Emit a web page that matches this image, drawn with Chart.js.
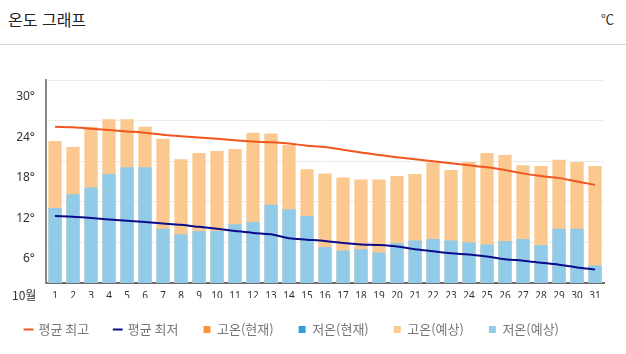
<!DOCTYPE html>
<html lang="ko">
<head>
<meta charset="utf-8">
<script src="https://cdn.jsdelivr.net/npm/chart.js@4.4.1/dist/chart.umd.min.js"></script>
<style>
  html, body { margin: 0; padding: 0; background: #fff; }
  body { width: 626px; height: 354px; position: relative; overflow: hidden;
         font-family: "Noto Sans CJK KR", "Noto Sans", sans-serif; }
  #hdr { position: absolute; left: 0; top: 0; width: 626px; height: 44px; border-bottom: 1px solid #d6d6d6; }
  #title { position: absolute; left: 8px; top: 8px; font-size: 16px; line-height: 22px; color: #222; }
  #unit { position: absolute; right: 12px; top: 10px; font-size: 13px; line-height: 18px; color: #333; }
  #month { position: absolute; left: 12px; top: 286px; font-size: 12px; line-height: 18px; color: #333; }
  #wrap { position: absolute; left: 0; top: 45px; width: 626px; height: 309px; }
</style>
</head>
<body>
<div id="hdr"><span id="title">온도 그래프</span><span id="unit">℃</span></div>
<div id="wrap"><canvas id="c" width="626" height="309"></canvas></div>
<div id="month">10월</div>
<script>
const days = ['1','2','3','4','5','6','7','8','9','10','11','12','13','14','15','16','17','18','19','20','21','22','23','24','25','26','27','28','29','30','31'];
const yTickLabels = ['', '6°', '12°', '18°', '24°', '30°'];
const seriesNames = ['평균 최고', '평균 최저', '고온(현재)', '저온(현재)', '고온(예상)', '저온(예상)'];

const avgHigh = [25.5,25.4,25.2,25.0,24.8,24.6,24.3,24.1,23.9,23.7,23.5,23.3,23.2,23.0,22.7,22.5,22.1,21.7,21.3,21.0,20.7,20.4,20.1,19.8,19.5,19.1,18.6,18.2,17.9,17.4,16.9];
const avgLow = [12.3,12.2,12.0,11.8,11.6,11.4,11.2,11.0,10.7,10.4,10.1,9.8,9.6,9.0,8.8,8.6,8.3,8.1,8.0,7.8,7.4,7.1,6.8,6.6,6.3,5.9,5.7,5.4,5.1,4.7,4.4];
const currentHigh = [];
const currentLow = [];
const forecastHigh = [23.4,22.5,25.5,26.6,26.6,25.5,23.7,20.7,21.6,21.9,22.2,24.6,24.5,22.8,19.2,18.6,18.0,17.7,17.7,18.2,18.5,20.2,19.1,20.3,21.6,21.3,19.8,19.7,20.6,20.3,19.7];
const forecastLow = [13.5,15.5,16.5,18.5,19.5,19.5,10.4,9.6,10.1,10.1,11.1,11.4,14.0,13.3,12.3,7.7,7.2,7.4,6.9,8.3,8.7,8.9,8.7,8.4,8.1,8.6,8.9,8.0,10.4,10.4,5.0];

const barCommon = { type: 'bar', grouped: false, barPercentage: 0.74, categoryPercentage: 1.0, borderWidth: 0, pointStyle: 'rect' };
const lineCommon = { type: 'line', borderWidth: 2, pointRadius: 0, pointHoverRadius: 0, pointStyle: 'line', cubicInterpolationMode: 'monotone', fill: false, order: 0 };

new Chart(document.getElementById('c'), {
  data: {
    labels: days,
    datasets: [
      Object.assign({}, lineCommon, { label: seriesNames[0], data: avgHigh, borderColor: '#f0561e', backgroundColor: '#f0561e' }),
      Object.assign({}, lineCommon, { label: seriesNames[1], data: avgLow, borderColor: '#0c0c8a', backgroundColor: '#0c0c8a' }),
      Object.assign({}, barCommon, { label: seriesNames[2], data: currentHigh, backgroundColor: '#f7943c', order: 2 }),
      Object.assign({}, barCommon, { label: seriesNames[3], data: currentLow, backgroundColor: '#2f9fd7', order: 1 }),
      Object.assign({}, barCommon, { label: seriesNames[4], data: forecastHigh, backgroundColor: '#fbc98f', order: 2 }),
      Object.assign({}, barCommon, { label: seriesNames[5], data: forecastLow, backgroundColor: '#92cbe8', order: 1 })
    ]
  },
  options: {
    responsive: false,
    animation: false,
    events: [],
    layout: { padding: { left: 0, right: 22, top: 35, bottom: 8 } },
    plugins: {
      tooltip: { enabled: false },
      title: { display: false },
      legend: {
        display: true,
        position: 'bottom',
        align: 'start',
        labels: {
          usePointStyle: true,
          boxWidth: 7,
          boxHeight: 7,
          padding: 25,
          color: '#777',
          font: { family: '"Noto Sans CJK KR", "Noto Sans", sans-serif', size: 13 },
          sort: (a, b) => a.datasetIndex - b.datasetIndex
        }
      }
    },
    scales: {
      x: {
        type: 'category',
        offset: true,
        grid: { display: false, drawTicks: false },
        border: { display: true, color: '#6e6e6e', width: 2 },
        ticks: {
          color: '#333',
          font: { family: '"Noto Sans", sans-serif', size: 10 },
          padding: 7,
          maxRotation: 0,
          autoSkip: false
        },
        afterFit: (s) => { s.height = 15; }
      },
      y: {
        type: 'linear',
        min: 2.4,
        max: 32.4,
        grid: { color: '#ececec', lineWidth: 1, drawTicks: false },
        border: { display: true, color: '#888', width: 2 },
        ticks: {
          stepSize: 6,
          color: '#333',
          padding: 11,
          labelOffset: 16.5,
          font: { family: '"Noto Sans", sans-serif', size: 12 },
          callback: (v, i) => yTickLabels[i]
        },
        afterFit: (s) => { s.width = 46; }
      }
    }
  }
});
</script>
</body>
</html>
